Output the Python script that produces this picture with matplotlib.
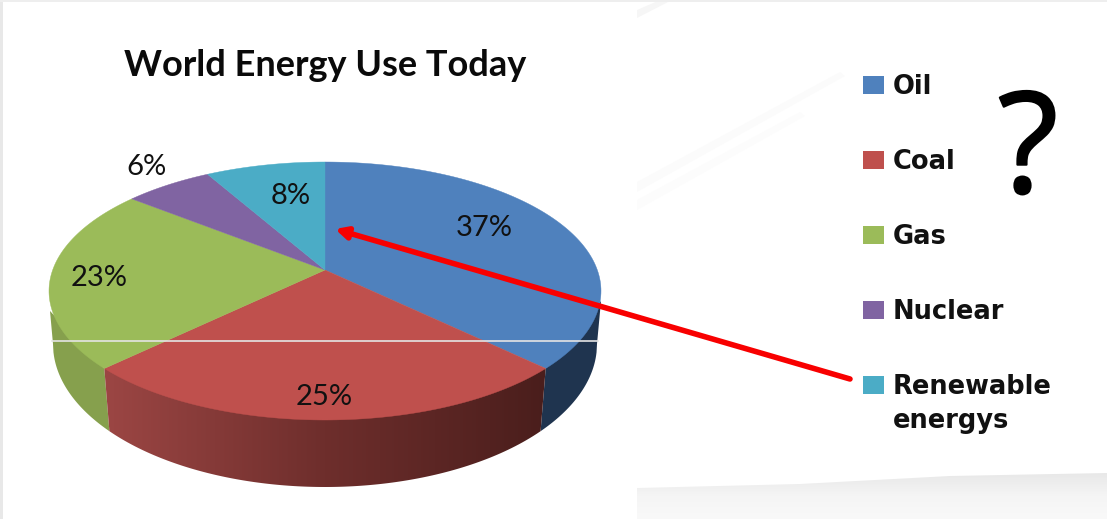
import numpy as np
import matplotlib.pyplot as plt
import matplotlib.patheffects as pe
from matplotlib.patches import Polygon, Rectangle
from matplotlib.colors import LinearSegmentedColormap

labels = ['Oil', 'Coal', 'Gas', 'Nuclear', 'Renewable\nenergys']
values = [37, 25, 23, 6, 8]
pct_labels = ['37%', '25%', '23%', '6%', '8%']
colors = ['#4f81bd', '#bf504d', '#9bbb59', '#8064a2', '#4bacc6']

plt.rcParams['font.family'] = ['Lato', 'DejaVu Sans']

fig = plt.figure(figsize=(11.07, 5.19), dpi=100)
ax = fig.add_axes([0, 0, 1, 1])
ax.set_xlim(0, 1107)
ax.set_ylim(519, 0)
ax.axis('off')


def grad(pts, cols, extent, vertical=False, z=1):
    # gradient image clipped to a polygon
    cm = LinearSegmentedColormap.from_list('g', cols)
    g = np.linspace(0, 1, 256).reshape(-1, 1) if vertical else np.linspace(0, 1, 256).reshape(1, -1)
    poly = Polygon(pts, fc='none', ec='none', transform=ax.transData)
    ax.add_patch(poly)
    im = ax.imshow(g, cmap=cm, extent=extent, aspect='auto', zorder=z, interpolation='bilinear')
    im.set_clip_path(poly)


# background: faint grey streaks
grad([[637, 488], [800, 484], [950, 476], [1107, 473], [1107, 519], [637, 519]],
     ['#e8e8e8', '#f5f5f5', '#f9f9f9'], (637, 1107, 519, 473), vertical=True)
ax.add_patch(Polygon([[637, 182], [840, 72], [845, 76], [637, 192]], fc='#fbfbfb', ec='none', zorder=1))
ax.add_patch(Polygon([[637, 200], [800, 112], [805, 116], [637, 210]], fc='#fcfcfc', ec='none', zorder=1))
ax.add_patch(Polygon([[637, 10], [660, 0], [672, 0], [637, 18]], fc='#f6f6f6', ec='none', zorder=1))
ax.add_patch(Rectangle((0, 0), 3, 519, fc='#e8e8e8', ec='none', zorder=1))
ax.add_patch(Rectangle((0, 0), 1107, 1.5, fc='#eeeeee', ec='none', zorder=1))

cx, cy = 325, 270          # apex of the slices
ex, ey, rx, ry = 325, 291, 276, 129    # top face ellipse
by, brx, bry = 344, 272, 143           # bottom edge ellipse


def rim(theta):
    # where a ray from the apex meets the top ellipse
    u, v = np.sin(theta), -0.97 * np.cos(theta)
    o = (cy - ey) / ry
    a = u ** 2 + v ** 2
    b = 2 * o * v
    c = o ** 2 - 1
    t = (-b + np.sqrt(b ** 2 - 4 * a * c)) / (2 * a)
    return ex + rx * t * u, ey + ry * (o + t * v)


def bottom_arc(x0, x1):
    xs = np.linspace(x0, x1, 120)
    return np.column_stack([xs, by + bry * np.sqrt(np.maximum(0, 1 - ((xs - ex) / brx) ** 2))])


edges = np.cumsum([0] + values) / sum(values) * 2 * np.pi
x_oc, y_oc = rim(edges[1])
x_cg, y_cg = rim(edges[2])
bx_oc = ex + (x_oc - ex) * 0.977
bx_cg = ex + (x_cg - ex) * 0.977

# side walls
ax.add_patch(Polygon(np.vstack([[[x_oc, y_oc], [ex + rx, ey + 10]], bottom_arc(ex + brx, bx_oc)]),
                     fc='#1f344f', ec='none', zorder=2))
ax.add_patch(Polygon(np.vstack([[[x_cg, y_cg], [ex - rx + 1, ey + 20]], bottom_arc(ex - brx, bx_cg)]),
                     fc='#86a04d', ec='none', zorder=2))
grad(np.vstack([[[x_oc, y_oc], [x_cg, y_cg]], bottom_arc(bx_cg, bx_oc)]),
     ['#9c4644', '#6e2e2c', '#4a1e1c'], (x_cg, x_oc, 490, 360), z=2)

# top of the pie
for i in range(len(values)):
    th = np.linspace(edges[i], edges[i + 1], 120)
    xs, ys = rim(th)
    pts = np.column_stack([np.r_[cx, xs], np.r_[cy, ys]])
    ax.add_patch(Polygon(pts, fc=colors[i], ec=colors[i], lw=0.3, zorder=3))

# white line across the picture
ax.plot([52, 598], [341, 341], color='#e4e4e4', lw=1.2, zorder=4)

# percent labels
pct_pos = [(484, 228), (324, 397), (99, 278), (147, 167), (291, 196)]
for p, (x, y) in zip(pct_labels, pct_pos):
    ax.text(x, y, p, fontsize=21, ha='center', va='center', color='#111111', zorder=6)

ax.text(325, 66, 'World Energy Use Today', fontsize=26, fontweight='bold', ha='center', va='center', color='#0a0a0a')

# legend
leg_y = [85, 160, 235, 310, 385]
for lab, col, y in zip(labels, colors, leg_y):
    ax.add_patch(Rectangle((863, y - 9), 21, 18, fc=col, ec='none', zorder=5))
    ax.text(893, y - 11, lab, fontsize=18.5, fontweight='bold', color='#111111', va='top', ha='left',
            family='DejaVu Sans', linespacing=1.4, zorder=5)

ax.text(1028, 156, '?', fontsize=101, ha='center', va='center', color='#000000', family='Open Sans', zorder=6,
        path_effects=[pe.withStroke(linewidth=1.5, foreground='#000000')])

# red arrow
ax.annotate('', xy=(335, 229), xytext=(850, 379),
            arrowprops=dict(arrowstyle='-|>', color='#f80000', lw=4, mutation_scale=17, shrinkA=0, shrinkB=0),
            zorder=7)

ax.set_xlim(0, 1107)
ax.set_ylim(519, 0)
fig.savefig('out.png', dpi=100)
